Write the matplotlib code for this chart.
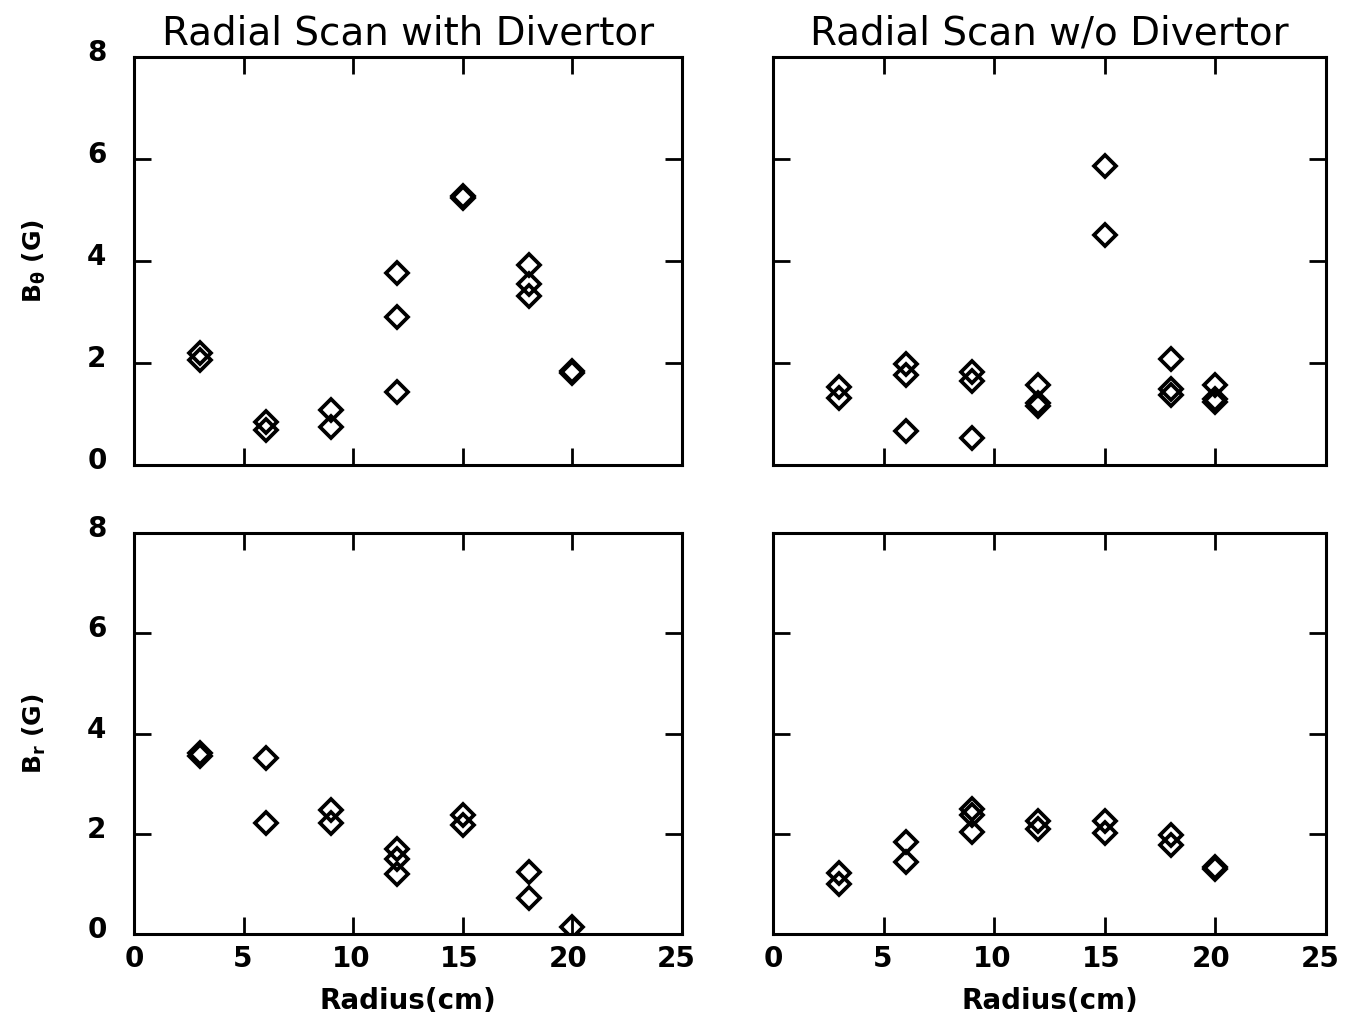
import numpy as np
import matplotlib.pyplot as plt

# B_theta, with divertor
bt_div_r = [3, 3, 6, 6, 9, 9, 12, 12, 12, 15, 15, 18, 18, 18, 20, 20]
bt_div_b = [2.2, 2.05, 0.85, 0.68, 1.08, 0.75, 3.76, 2.9, 1.43, 5.27, 5.23, 3.93, 3.55, 3.31, 1.84, 1.80]

# B_theta, without divertor
bt_nodiv_r = [3, 3, 6, 6, 6, 9, 9, 9, 12, 12, 12, 15, 15, 18, 18, 18, 20, 20, 20]
bt_nodiv_b = [1.52, 1.32, 1.97, 1.76, 0.67, 1.83, 1.65, 0.53, 1.56, 1.21, 1.16, 5.87, 4.5, 2.08, 1.49, 1.37, 1.57, 1.29, 1.24]

# B_r, with divertor
br_div_r = [3, 3, 6, 6, 9, 9, 12, 12, 12, 15, 15, 18, 18, 20]
br_div_b = [3.61, 3.56, 3.51, 2.21, 2.47, 2.21, 1.70, 1.49, 1.19, 2.37, 2.18, 1.23, 0.71, 0.14]

# B_r, without divertor
br_nodiv_r = [3, 3, 6, 6, 9, 9, 9, 12, 12, 15, 15, 18, 18, 20, 20]
br_nodiv_b = [1.22, 0.99, 1.83, 1.43, 2.5, 2.37, 2.03, 2.25, 2.1, 2.25, 2.01, 1.98, 1.78, 1.33, 1.29]

titles = ['Radial Scan with Divertor', 'Radial Scan w/o Divertor']
ylabels = [r'B$_{\theta}$ (G)', r'B$_{r}$ (G)']

plt.rcParams['mathtext.default'] = 'bf'

fig = plt.figure(figsize=(13.51, 10.28), dpi=100)
boxes = [
    [0.0992, 0.5477, 0.4056, 0.3969],
    [0.5722, 0.5477, 0.4093, 0.3969],
    [0.0992, 0.0914, 0.4056, 0.3901],
    [0.5722, 0.0914, 0.4093, 0.3901],
]
panels = [(bt_div_r, bt_div_b), (bt_nodiv_r, bt_nodiv_b),
          (br_div_r, br_div_b), (br_nodiv_r, br_nodiv_b)]

for i, (box, (r, b)) in enumerate(zip(boxes, panels)):
    ax = fig.add_axes(box)
    ax.plot(r, b, linestyle='none', marker='D', markersize=11.5,
            markerfacecolor='none', markeredgecolor='black', markeredgewidth=2.7)
    ax.set_xlim(0, 25)
    ax.set_ylim(0, 8)
    for s in ax.spines.values():
        s.set_linewidth(2.2)

    # inward ticks on all four sides, labels only on outer edges
    ax.set_xticks([5, 10, 15, 20])
    ax.set_yticks([2, 4, 6])
    ax.tick_params(direction='in', length=12, width=2, top=True, right=True,
                   labelbottom=False, labelleft=False)

    row, col = divmod(i, 2)
    if col == 0:
        for y in [0, 2, 4, 6, 8]:
            ax.text(-0.05, y / 8 + 0.01, str(y), transform=ax.transAxes, ha='right', va='center',
                    fontsize=20, fontweight='bold')
        ax.set_ylabel(ylabels[row], fontsize=18, fontweight='bold', labelpad=62)
    if row == 1:
        for x in [0, 5, 10, 15, 20, 25]:
            ax.text(x / 25 - 0.01 * x / 25, -0.028, str(x), transform=ax.transAxes,
                    ha='center', va='top', fontsize=20, fontweight='bold')
        ax.set_xlabel('Radius(cm)', fontsize=20, fontweight='bold', labelpad=38)
    if row == 0:
        ax.set_title(titles[col], fontsize=28, pad=9)

fig.savefig('out.png', dpi=100)
